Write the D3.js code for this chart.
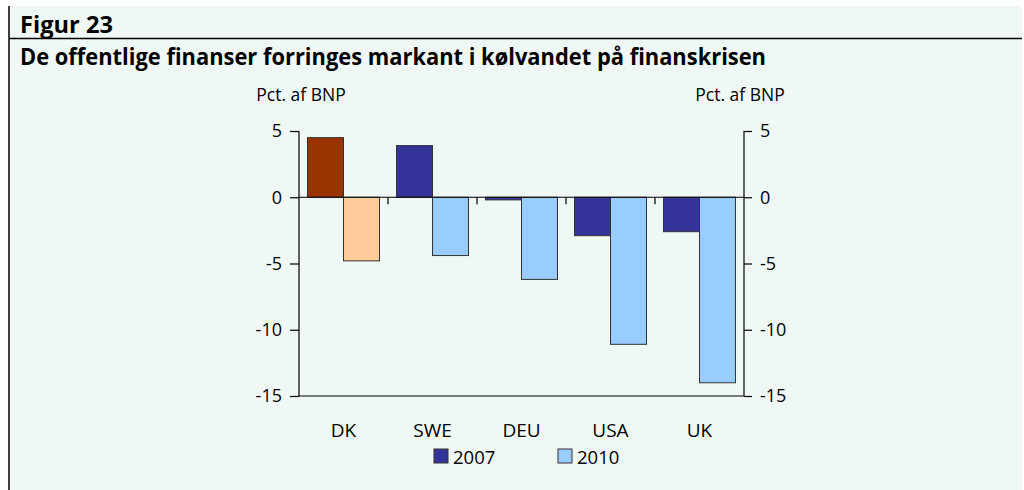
<!DOCTYPE html>
<html><head><meta charset="utf-8">
<script src="https://cdn.jsdelivr.net/npm/d3@7"></script>
<style>
html,body{margin:0;padding:0;background:#fff;}
svg{display:block;font-family:"Open Sans","Noto Sans",sans-serif;}
</style></head>
<body><svg id="c" width="1024" height="490"></svg>
<script>
const categories = ["DK","SWE","DEU","USA","UK"];
const series = ["2007","2010"];
const values2007 = [4.5, 3.9, -0.2, -2.9, -2.6];
const values2010 = [-4.8, -4.4, -6.2, -11.1, -14.0];
const yTicks = [5, 0, -5, -10, -15];
const figLabel = "Figur 23";
const title = "De offentlige finanser forringes markant i kølvandet på finanskrisen";
const axisLabel = "Pct. af BNP";

const col2007 = "#333399", col2010 = "#99CCFF";
const colDK2007 = "#993300", colDK2010 = "#FFCC99";

const svg = d3.select("#c");
svg.append("rect").attr("x",9).attr("y",6).attr("width",1013).attr("height",484).attr("fill","#F0F8F5");
svg.append("line").attr("x1",9).attr("x2",9).attr("y1",6).attr("y2",490).attr("stroke","#000").attr("stroke-width",1.5);
svg.append("line").attr("x1",9).attr("x2",1022).attr("y1",38.5).attr("y2",38.5).attr("stroke","#000").attr("stroke-width",1.3);

svg.append("text").attr("x",20).attr("y",33).attr("font-size",23).attr("font-weight","bold")
  .attr("textLength",93).attr("lengthAdjust","spacingAndGlyphs").text(figLabel);
svg.append("text").attr("x",20).attr("y",65).attr("font-size",23).attr("font-weight","bold")
  .attr("textLength",746).attr("lengthAdjust","spacingAndGlyphs").text(title);

const x0 = d3.scaleBand().domain(categories).range([299,744]).paddingInner(17/89).paddingOuter(8.5/89);
const x1 = d3.scaleBand().domain(series).range([0,x0.bandwidth()]);
const y = d3.scaleLinear().domain([-15,5]).range([396,131]);

// bars
const data = [];
categories.forEach((c,i)=>{
  data.push({c, s:"2007", v:values2007[i], fill: c==="DK"?colDK2007:col2007});
  data.push({c, s:"2010", v:values2010[i], fill: c==="DK"?colDK2010:col2010});
});
svg.append("g").selectAll("rect").data(data).join("rect")
  .attr("x",d=>x0(d.c)+x1(d.s))
  .attr("width",x1.bandwidth())
  .attr("y",d=>y(Math.max(0,d.v)))
  .attr("height",d=>Math.abs(y(d.v)-y(0)))
  .attr("fill",d=>d.fill)
  .attr("stroke","#333").attr("stroke-width",1);

const fmt = d=>String(d);
const la = svg.append("g").attr("transform","translate(299,0)")
  .call(d3.axisLeft(y).tickValues(yTicks).tickSize(9).tickPadding(8).tickFormat(fmt));
const ra = svg.append("g").attr("transform","translate(744,0)")
  .call(d3.axisRight(y).tickValues(yTicks).tickSize(8).tickPadding(8).tickFormat(fmt));
[la,ra].forEach(a=>{
  a.select(".domain").attr("stroke","#000").attr("stroke-width",1.2).attr("d",`M0,${y(5)}V${y(-15)}`);
  a.selectAll(".tick line").attr("stroke","#000").attr("stroke-width",1.2);
  a.selectAll(".tick text").attr("font-size",18).attr("fill","#000").attr("font-family","'Open Sans',sans-serif");
});

// zero line and bottom line
svg.append("line").attr("x1",299).attr("x2",744).attr("y1",y(0)).attr("y2",y(0)).attr("stroke","#000").attr("stroke-width",1.2);
svg.append("line").attr("x1",299).attr("x2",744).attr("y1",y(-15)).attr("y2",y(-15)).attr("stroke","#000").attr("stroke-width",1.2);
// category separator ticks on zero line
const step = x0.step();
categories.slice(1).forEach(c=>{
  const xx = x0(c) - x0.paddingInner()*step/2;
  svg.append("line").attr("x1",xx).attr("x2",xx).attr("y1",y(0)).attr("y2",y(0)+7).attr("stroke","#000").attr("stroke-width",1.2);
});

// category labels
svg.append("g").selectAll("text").data(categories).join("text")
  .attr("x",d=>x0(d)+x0.bandwidth()/2).attr("y",437).attr("text-anchor","middle")
  .attr("font-size",19).text(d=>d);

// axis titles
svg.append("text").attr("x",301).attr("y",101).attr("text-anchor","middle").attr("font-size",17.5).text(axisLabel);
svg.append("text").attr("x",740).attr("y",101).attr("text-anchor","middle").attr("font-size",17.5).text(axisLabel);

// legend
const leg = [{s:"2007",fill:col2007,x:434},{s:"2010",fill:col2010,x:558}];
leg.forEach(l=>{
  svg.append("rect").attr("x",l.x).attr("y",449).attr("width",14).attr("height",14).attr("fill",l.fill).attr("stroke","#333").attr("stroke-width",1);
  svg.append("text").attr("x",l.x+19).attr("y",464).attr("font-size",18.5).text(l.s);
});
</script></body></html>
